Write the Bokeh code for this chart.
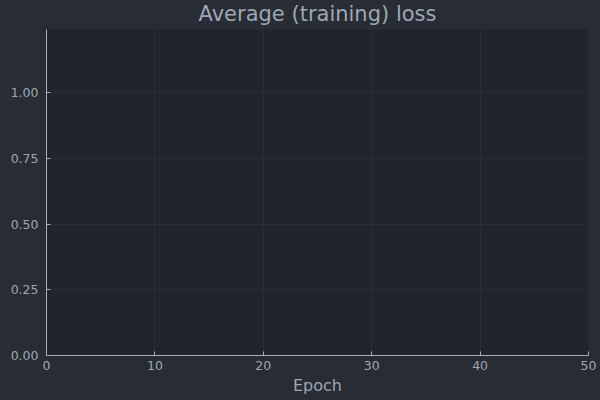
from bokeh.plotting import figure
from bokeh.models import Range1d, FixedTicker
from bokeh.embed import file_html
from bokeh.resources import INLINE

# Data (the reference shows an empty loss curve)
epochs = []
avg_loss = []
x_ticks = [0, 10, 20, 30, 40, 50]
y_ticks = [0.0, 0.25, 0.5, 0.75, 1.0]
title_text = "Average (training) loss"
x_label = "Epoch"

OUTER = "#282c34"
INNER = "#21252b"
TEXT = "#9ea7b3"
AXIS = "#a8adb5"
GRID = "#292d34"
FONT = "DejaVu Sans"

YMAX = 1.241

p = figure(width=600, height=400, output_backend="svg", toolbar_location=None,
           x_range=Range1d(0, 50), y_range=Range1d(0, YMAX),
           min_border_left=46, min_border_right=12, min_border_bottom=45,
           min_border_top=0)
p.styles = {"background-color": OUTER}

p.line(epochs, avg_loss, line_color="#00a9e0", line_width=1.5)

p.background_fill_color = INNER
p.border_fill_color = OUTER
p.outline_line_color = None

p.title.text = title_text
p.title.align = "center"
p.title.vertical_align = "top"
p.title.text_font = FONT
p.title.text_font_size = "21px"
p.title.text_font_style = "normal"
p.title.text_color = TEXT
p.title.standoff = 3
p.title.offset = 0

for ax in (p.xaxis[0], p.yaxis[0]):
    ax.axis_line_color = AXIS
    ax.axis_line_width = 1
    ax.major_tick_line_color = AXIS
    ax.major_tick_in = 4
    ax.major_tick_out = 0
    ax.minor_tick_line_color = None
    ax.major_label_text_color = TEXT
    ax.major_label_text_font = FONT
    ax.major_label_text_font_size = "12.5px"

p.xaxis.ticker = FixedTicker(ticks=x_ticks)
p.yaxis.ticker = FixedTicker(ticks=y_ticks)
p.yaxis.major_label_overrides = {v: f"{v:.2f}" for v in y_ticks}
p.xaxis.major_label_standoff = 5
p.yaxis.major_label_standoff = 8

p.xaxis.axis_label = x_label
p.xaxis.axis_label_text_font = FONT
p.xaxis.axis_label_text_font_size = "16px"
p.xaxis.axis_label_text_font_style = "normal"
p.xaxis.axis_label_text_color = TEXT
p.xaxis.axis_label_standoff = 3

p.xgrid.grid_line_color = GRID
p.ygrid.grid_line_color = GRID
p.xgrid.grid_line_width = 1
p.ygrid.grid_line_width = 1

open("out.html", "w").write(file_html(p, INLINE))
